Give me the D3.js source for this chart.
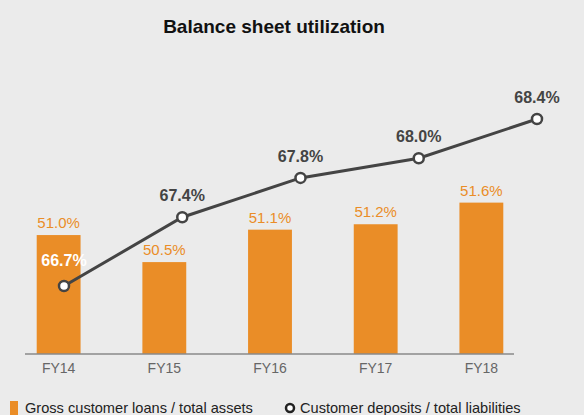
<!DOCTYPE html>
<html>
<head>
<meta charset="utf-8">
<script src="https://cdn.jsdelivr.net/npm/d3@7"></script>
<style>
  body { margin: 0; background: #ebebeb; }
  svg { display: block; font-family: "Liberation Sans", Arial, Helvetica, sans-serif; }
</style>
</head>
<body>
<script>
const years = ['FY14', 'FY15', 'FY16', 'FY17', 'FY18'];
const loansToAssets = [51.0, 50.5, 51.1, 51.2, 51.6];
const depositsToLiabilities = [66.7, 67.4, 67.8, 68.0, 68.4];
const legendLabels = ['Gross customer loans / total assets', 'Customer deposits / total liabilities'];

const width = 584;
const height = 415;
const orange = '#ea8d27';
const dark = '#444444';

const svg = d3.select('body')
  .append('svg')
  .attr('width', width)
  .attr('height', height);

svg.append('rect')
  .attr('width', width)
  .attr('height', height)
  .attr('fill', '#ebebeb');

svg.append('text')
  .attr('x', 274)
  .attr('y', 33)
  .attr('text-anchor', 'middle')
  .attr('font-size', 19)
  .attr('font-weight', 'bold')
  .attr('fill', '#111')
  .text('Balance sheet utilization');

const baseY = 354;

// bars sit on their own band scale
const xBar = d3.scaleBand()
  .domain(years)
  .range([5, 535])
  .paddingInner(0.585)
  .paddingOuter(0.3);

const yBar = d3.scaleLinear()
  .domain([48.8, 52])
  .range([baseY, 181]);

// the line is spread wider than the bars
const xLine = d3.scalePoint()
  .domain(years)
  .range([64, 537]);

const yLine = d3.scaleLinear()
  .domain([66.7, 68.4])
  .range([286, 119]);

const bars = svg.append('g');
bars.selectAll('rect')
  .data(years)
  .enter().append('rect')
    .attr('x', d => xBar(d))
    .attr('y', (d, i) => yBar(loansToAssets[i]))
    .attr('width', xBar.bandwidth())
    .attr('height', (d, i) => baseY - yBar(loansToAssets[i]))
    .attr('fill', orange);

bars.selectAll('text')
  .data(years)
  .enter().append('text')
    .attr('x', d => xBar(d) + xBar.bandwidth() / 2)
    .attr('y', (d, i) => yBar(loansToAssets[i]) - 7)
    .attr('text-anchor', 'middle')
    .attr('font-size', 15)
    .attr('fill', orange)
    .text((d, i) => loansToAssets[i].toFixed(1) + '%');

// x axis
const xAxis = svg.append('g')
  .attr('transform', `translate(0,${baseY})`)
  .call(d3.axisBottom(xBar).tickSize(0).tickPadding(9));
xAxis.select('.domain').remove();
xAxis.append('line')
  .attr('x1', 25)
  .attr('x2', 514)
  .attr('stroke', '#8a8a8a')
  .attr('stroke-width', 1.5);
xAxis.selectAll('text')
  .attr('font-size', 14)
  .attr('font-family', '"Liberation Sans", Arial, sans-serif')
  .attr('fill', '#666');

// line series
const line = d3.line()
  .x((d, i) => xLine(years[i]))
  .y(d => yLine(d));

svg.append('path')
  .datum(depositsToLiabilities)
  .attr('d', line)
  .attr('fill', 'none')
  .attr('stroke', dark)
  .attr('stroke-width', 3);

svg.append('g').selectAll('circle')
  .data(depositsToLiabilities)
  .enter().append('circle')
    .attr('cx', (d, i) => xLine(years[i]))
    .attr('cy', d => yLine(d))
    .attr('r', 5)
    .attr('fill', '#fff')
    .attr('stroke', dark)
    .attr('stroke-width', 2.5);

svg.append('g').selectAll('text')
  .data(depositsToLiabilities)
  .enter().append('text')
    .attr('x', (d, i) => xLine(years[i]))
    .attr('y', (d, i) => yLine(d) - (i === 0 ? 20 : 16))
    .attr('text-anchor', 'middle')
    .attr('font-size', 16)
    .attr('font-weight', 'bold')
    .attr('fill', (d, i) => i === 0 ? '#fff' : dark)
    .text(d => d.toFixed(1) + '%');

// legend (cut at the bottom edge, as in the source)
const legend = svg.append('g');
legend.append('rect')
  .attr('x', 10)
  .attr('y', 401)
  .attr('width', 8)
  .attr('height', 14)
  .attr('fill', orange);
legend.append('text')
  .attr('x', 25)
  .attr('y', 413)
  .attr('font-size', 14.6)
  .attr('fill', '#222')
  .text(legendLabels[0]);
legend.append('circle')
  .attr('cx', 290)
  .attr('cy', 408)
  .attr('r', 4)
  .attr('fill', '#fff')
  .attr('stroke', '#222')
  .attr('stroke-width', 2.5);
legend.append('text')
  .attr('x', 300)
  .attr('y', 413)
  .attr('font-size', 14.6)
  .attr('fill', '#222')
  .text(legendLabels[1]);
</script>
</body>
</html>
